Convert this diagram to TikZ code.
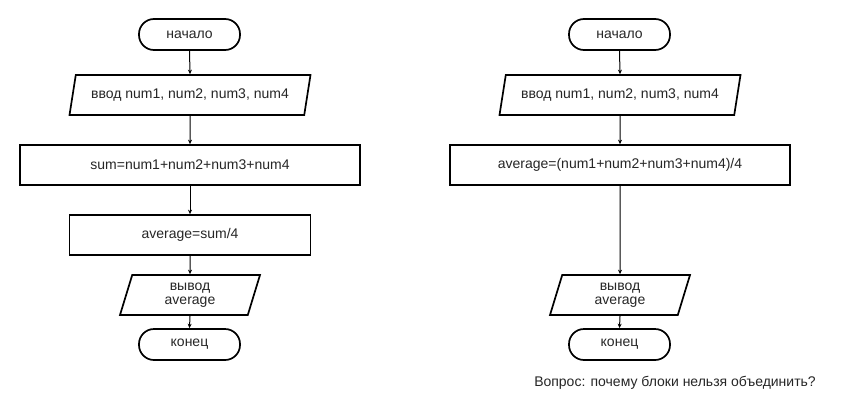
\documentclass[tikz,border=0pt]{standalone}
\usepackage{fontspec}
\setmainfont{Liberation Sans}
\usetikzlibrary{shapes.geometric,arrows.meta}
\begin{document}
\begin{tikzpicture}[x=1pt,y=-1pt,
  base/.style={draw=black, line width=1.7pt, font=\fontsize{14}{14}\selectfont, text=black!85, align=center, inner sep=0pt},
  term/.style={base, rectangle, rounded corners=15pt, minimum width=101pt, minimum height=31pt},
  proc/.style={base, rectangle, minimum height=40pt},
  io/.style={base, trapezium, trapezium left angle=63.43, trapezium right angle=116.57, trapezium stretches body, minimum height=40pt},
  flow/.style={-{Stealth[length=4.5pt,width=4pt]}, line width=1pt},
  note/.style={font=\fontsize{14}{14}\selectfont, text=black!85, inner sep=0pt}]
\useasboundingbox[fill=white] (0,0) rectangle (850,415);
% left
\node[term] (s1) at (189.5,34.5) {начало};
\node[io, minimum width=241pt] (i1) at (190,95) {ввод num1, num2, num3, num4};
\node[proc, minimum width=340pt] (p1) at (190,165) {sum=num1+num2+num3+num4};
\node[proc, minimum width=241pt] (p2) at (190,235) {average=sum/4};
\node[io, minimum width=140pt] (o1) at (190,295) {вывод\\average};
\node[term] (e1) at (189.5,344.5) {конец};
% right
\node[term] (s2) at (619.5,34.5) {начало};
\node[io, minimum width=241pt] (i2) at (620,95) {ввод num1, num2, num3, num4};
\node[proc, minimum width=340pt] (p3) at (620,165) {average=(num1+num2+num3+num4)/4};
\node[io, minimum width=140pt] (o2) at (620,295) {вывод\\average};
\node[term] (e2) at (619.5,344.5) {конец};
\node[note] (q) at (675,383) {Вопрос: почему блоки нельзя объединить?};
% connectors
\draw[flow] (s1.south) -- (i1.north);
\draw[flow] (i1.south) -- (p1.north);
\draw[flow] (p1.south) -- (p2.north);
\draw[flow] (p2.south) -- (o1.north);
\draw[flow] (o1.south) -- (e1.north);
\draw[flow] (s2.south) -- (i2.north);
\draw[flow] (i2.south) -- (p3.north);
\draw[flow] (p3.south) -- (o2.north);
\draw[flow] (o2.south) -- (e2.north);
\end{tikzpicture}
\end{document}
